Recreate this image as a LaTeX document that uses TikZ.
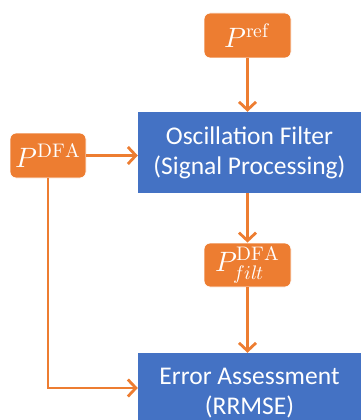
\documentclass[tikz,border=0pt]{standalone}
\usepackage{unicode-math}
\setmainfont{Carlito}
\setmathfont{Latin Modern Math}
\usetikzlibrary{arrows.meta}
\definecolor{orng}{HTML}{ED7D31}
\definecolor{blu}{HTML}{4472C4}
\tikzset{
  obox/.style={fill=orng, draw=white, line width=0.8pt, rounded corners=6pt, text=white, inner sep=0pt, font=\fontsize{28}{32}\selectfont},
  bbox/.style={fill=blu, draw=none, text=white, inner sep=0pt, align=center, minimum width=223pt, minimum height=81pt, font=\fontsize{25.5}{30}\selectfont},
  conn/.style={draw=orng, line width=2.8pt, -{Straight Barb[length=8pt,width=17pt,line width=2.8pt]}}
}
\begin{document}
\begin{tikzpicture}[x=1pt,y=-1pt]
\useasboundingbox (0,0) rectangle (361,420);
\clip (0,0) rectangle (361,420);
\node[obox, minimum width=87pt, minimum height=45pt] (pref) at (247.5,35.5) {$P^{\symup{ref}}$};
\node[obox, minimum width=76pt, minimum height=45pt] (pdfa) at (48,155.5) {$P^{\symup{DFA}}$};
\node[bbox] (osc) at (249.5,152.5) {Oscillation Filter\\(Signal Processing)};
\node[obox, minimum width=87pt, minimum height=44pt] (pfilt) at (247.5,265) {$P^{\symup{DFA}}_{filt}$};
\node[bbox] (err) at (249.5,393.5) {Error Assessment\\(RRMSE)};
\coordinate (corner) at (48,388);
\draw[conn] (pref.south) -- (pref.south |- osc.north);
\draw[conn] (pdfa.east) -- (pdfa.east -| osc.west);
\draw[conn] (pfilt.north |- osc.south) -- (pfilt.north);
\draw[conn] (pfilt.south) -- (pfilt.south |- err.north);
\draw[conn] (pdfa.south) -- (corner) -- (corner -| err.west);
\end{tikzpicture}
\end{document}
